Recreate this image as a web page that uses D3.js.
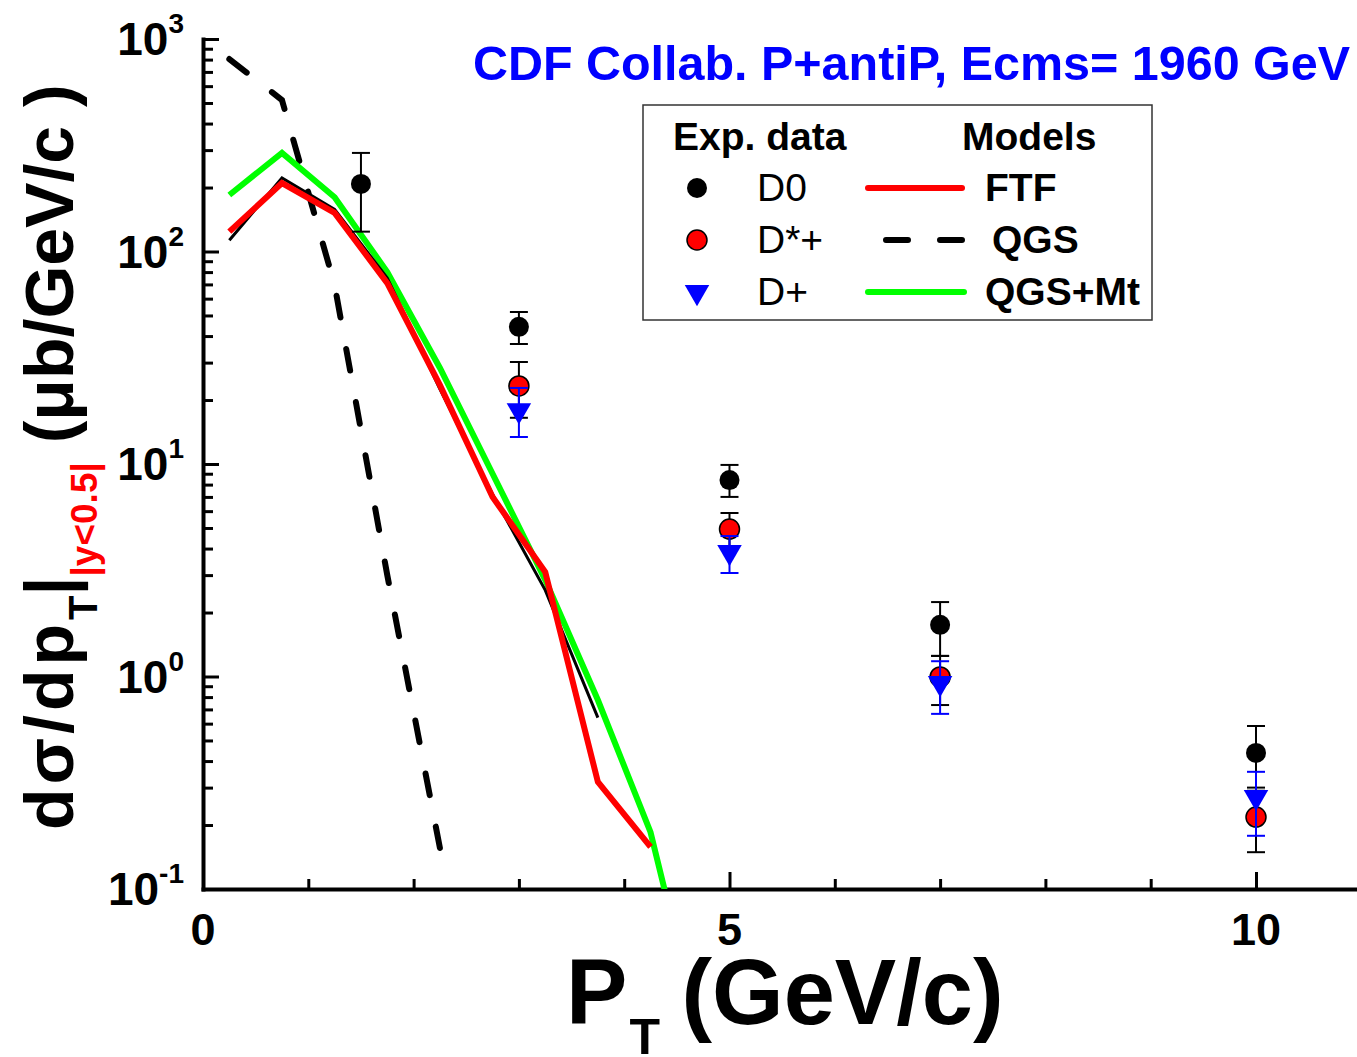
<!DOCTYPE html>
<html>
<head>
<meta charset="utf-8">
<script src="https://cdn.jsdelivr.net/npm/d3@7"></script>
<style>
  body { margin: 0; background: #fff; }
  text { font-family: "Liberation Sans", Arial, sans-serif; }
</style>
</head>
<body>
<script>
// ---- data ----
// experimental points: pT, value, lower and upper end of the error bar
var d0Pt  = [1.5, 3, 5, 7, 10];
var d0Val = [208, 44.2, 8.4, 1.75, 0.437];
var d0Lo  = [124, 36.7, 7.0, 1.25, 0.30];
var d0Hi  = [291, 51.9, 9.9, 2.24, 0.585];

var dStarPt  = [3, 5, 7, 10];
var dStarVal = [23.3, 4.94, 0.995, 0.218];
var dStarLo  = [16.5, 4.1, 0.734, 0.149];
var dStarHi  = [30.2, 5.88, 1.25, 0.29];

var dPlusPt  = [3, 5, 7, 10];
var dPlusVal = [17.9, 3.85, 0.93, 0.271];
var dPlusLo  = [13.4, 3.07, 0.667, 0.178];
var dPlusHi  = [22.8, 4.58, 1.18, 0.356];

// model curves on a 0.5 GeV/c grid
var modelPt = [0.25, 0.75, 1.25, 1.75, 2.25, 2.75, 3.25, 3.75, 4.25, 4.75];
var ftf     = [124, 210, 152, 71, 23.5, 7.0, 3.1, 0.319, 0.158];
var qgs     = [805, 516, 69.5, 3.0, 0.156];
var qgsMt   = [184.5, 291, 180, 80, 28.3, 9.0, 2.85, 0.775, 0.185, 0.018];
var blackSolid = [113, 222, 158, 75, 22.5, 7.2, 2.55, 0.64];

var xMajor = [0, 5, 10];
var xMinor = [1, 2, 3, 4, 6, 7, 8, 9];
var yMajorExp = [-1, 0, 1, 2, 3];

// ---- layout ----
var W = 1357, H = 1057;
var plotLeft = 203, plotBottom = 889, plotTop = 39;

var x = d3.scaleLinear().domain([0, 11]).range([plotLeft, plotLeft + 11 * 105.3]);
var y = d3.scaleLog().domain([0.1, 1000]).range([plotBottom, plotTop]);

var svg = d3.select("body").append("svg")
    .attr("width", W)
    .attr("height", H);

svg.append("clipPath").attr("id", "plotClip")
  .append("rect")
    .attr("x", plotLeft).attr("y", plotTop)
    .attr("width", W - plotLeft).attr("height", plotBottom - plotTop);

// ---- axes ----
var yMinor = [];
yMajorExp.slice(0, -1).forEach(function(e) {
  for (var k = 2; k <= 9; k++) yMinor.push(k * Math.pow(10, e));
});

function styleAxis(g, keepDomain) {
  g.selectAll(".tick line").attr("stroke", "#000").attr("stroke-width", 3);
  if (keepDomain) g.select(".domain").attr("stroke", "#000").attr("stroke-width", 4).attr("stroke-linecap", "square");
  else g.select(".domain").remove();
  g.selectAll(".tick text").remove();
}

svg.append("g")
    .attr("transform", "translate(" + plotLeft + ",0)")
    .call(d3.axisLeft(y).tickValues(yMinor).tickSize(-10).tickFormat(""))
    .call(styleAxis, false);
svg.append("g")
    .attr("transform", "translate(" + plotLeft + ",0)")
    .call(d3.axisLeft(y).tickValues(yMajorExp.map(function(e) { return Math.pow(10, e); }))
      .tickSizeInner(-16).tickSizeOuter(0).tickFormat(""))
    .call(styleAxis, true);

svg.append("g")
    .attr("transform", "translate(0," + plotBottom + ")")
    .call(d3.axisBottom(x).tickValues(xMinor).tickSize(-10).tickFormat(""))
    .call(styleAxis, false);
svg.append("g")
    .attr("transform", "translate(0," + plotBottom + ")")
    .call(d3.axisBottom(x).tickValues(xMajor).tickSizeInner(-17).tickSizeOuter(0).tickFormat(""))
    .call(styleAxis, true);

// y tick labels as 10^n
var yLab = svg.append("g");
yMajorExp.forEach(function(e) {
  var t = yLab.append("text")
      .attr("x", 184)
      .attr("y", y(Math.pow(10, e)) + 16)
      .attr("text-anchor", "end")
      .attr("font-weight", "bold")
      .attr("font-size", 46);
  t.append("tspan").text("10");
  t.append("tspan").attr("font-size", 28).attr("dy", -22).text(e);
});

// x tick labels
svg.append("g").selectAll("text")
    .data(xMajor)
  .enter().append("text")
    .attr("x", function(d) { return x(d); })
    .attr("y", 945)
    .attr("text-anchor", "middle")
    .attr("font-weight", "bold")
    .attr("font-size", 45)
    .text(function(d) { return d; });

// x axis title
var xt = svg.append("text")
    .attr("x", 566)
    .attr("y", 1024)
    .attr("font-weight", "bold")
    .attr("font-size", 92);
xt.append("tspan").text("P");
xt.append("tspan").attr("font-size", 50).attr("dy", 30).attr("dx", 2).text("T");
xt.append("tspan").attr("dy", -30).attr("dx", -4).text(" (GeV/c)");

// y axis title
var yt = svg.append("text")
    .attr("transform", "translate(73,830) rotate(-90)")
    .attr("font-weight", "bold")
    .attr("font-size", 68);
yt.append("tspan").attr("letter-spacing", 4).text("dσ/dp");
yt.append("tspan").attr("font-size", 40).attr("dy", 24).text("T");
yt.append("tspan").attr("dy", -24).text("|");
yt.append("tspan").attr("font-size", 37).attr("dy", 24).attr("fill", "#ff0000").text("|y<0.5|");
yt.append("tspan").attr("dy", -24).text("  (μb/GeV/c )");

// title
svg.append("text")
    .attr("x", 1350)
    .attr("y", 80)
    .attr("text-anchor", "end")
    .attr("font-weight", "bold")
    .attr("font-size", 48)
    .attr("fill", "#0000ff")
    .attr("textLength", 877)
    .attr("lengthAdjust", "spacingAndGlyphs")
    .text("CDF Collab. P+antiP, Ecms= 1960 GeV");

// ---- model lines ----
var plot = svg.append("g").attr("clip-path", "url(#plotClip)");

function curve(vals) {
  return vals.map(function(v, i) { return [modelPt[i], v]; });
}
var line = d3.line()
    .x(function(d) { return x(d[0]); })
    .y(function(d) { return y(d[1]); });

plot.append("path").datum(curve(qgs))
    .attr("d", line).attr("fill", "none")
    .attr("stroke", "#000").attr("stroke-width", 6)
    .attr("stroke-linecap", "round")
    .attr("stroke-dasharray", "22,32");
plot.append("path").datum(curve(qgsMt))
    .attr("d", line).attr("fill", "none")
    .attr("stroke", "#00ff00").attr("stroke-width", 6);
plot.append("path").datum(curve(blackSolid))
    .attr("d", line).attr("fill", "none")
    .attr("stroke", "#000").attr("stroke-width", 3);
plot.append("path").datum(curve(ftf))
    .attr("d", line).attr("fill", "none")
    .attr("stroke", "#ff0000").attr("stroke-width", 6);

// ---- experimental points ----
function errBars(pt, lo, hi, color) {
  var g = svg.append("g").attr("stroke", color).attr("stroke-width", 2);
  pt.forEach(function(p, i) {
    var cx = x(p);
    g.append("line").attr("x1", cx).attr("x2", cx).attr("y1", y(lo[i])).attr("y2", y(hi[i]));
    g.append("line").attr("x1", cx - 9).attr("x2", cx + 9).attr("y1", y(lo[i])).attr("y2", y(lo[i]));
    g.append("line").attr("x1", cx - 9).attr("x2", cx + 9).attr("y1", y(hi[i])).attr("y2", y(hi[i]));
  });
}

errBars(d0Pt, d0Lo, d0Hi, "#000");
svg.append("g").selectAll("circle")
    .data(d0Pt)
  .enter().append("circle")
    .attr("cx", function(d) { return x(d); })
    .attr("cy", function(d, i) { return y(d0Val[i]); })
    .attr("r", 10)
    .attr("fill", "#000");

errBars(dStarPt, dStarLo, dStarHi, "#000");
svg.append("g").selectAll("circle")
    .data(dStarPt)
  .enter().append("circle")
    .attr("cx", function(d) { return x(d); })
    .attr("cy", function(d, i) { return y(dStarVal[i]); })
    .attr("r", 10)
    .attr("fill", "#ff0000")
    .attr("stroke", "#000").attr("stroke-width", 1.5);

errBars(dPlusPt, dPlusLo, dPlusHi, "#0000ff");
var tri = d3.symbol().type(d3.symbolTriangle).size(260);
svg.append("g").selectAll("path")
    .data(dPlusPt)
  .enter().append("path")
    .attr("d", tri)
    .attr("transform", function(d, i) { return "translate(" + x(d) + "," + y(dPlusVal[i]) + ") rotate(180)"; })
    .attr("fill", "#0000ff");

// ---- legend ----
var lg = svg.append("g");
lg.append("rect")
    .attr("x", 643).attr("y", 105)
    .attr("width", 509).attr("height", 215)
    .attr("fill", "#fff")
    .attr("stroke", "#333").attr("stroke-width", 1.5);

lg.append("text").attr("x", 673).attr("y", 150)
    .attr("font-weight", "bold").attr("font-size", 39).text("Exp. data");
lg.append("text").attr("x", 962).attr("y", 150)
    .attr("font-weight", "bold").attr("font-size", 39).text("Models");

var rowY = [188, 240, 292];
var expNames = ["D0", "D*+", "D+"];
var modelNames = ["FTF", "QGS", "QGS+Mt"];

lg.append("circle").attr("cx", 697).attr("cy", rowY[0]).attr("r", 10).attr("fill", "#000");
lg.append("circle").attr("cx", 697).attr("cy", rowY[1]).attr("r", 10)
    .attr("fill", "#ff0000").attr("stroke", "#000").attr("stroke-width", 1.5);
lg.append("path").attr("d", tri)
    .attr("transform", "translate(697," + rowY[2] + ") rotate(180)")
    .attr("fill", "#0000ff");

expNames.forEach(function(n, i) {
  lg.append("text").attr("x", 757).attr("y", rowY[i] + 13)
      .attr("font-size", 39).text(n);
});

lg.append("line").attr("x1", 868).attr("x2", 962).attr("y1", rowY[0]).attr("y2", rowY[0])
    .attr("stroke", "#ff0000").attr("stroke-width", 6).attr("stroke-linecap", "round");
lg.append("line").attr("x1", 886).attr("x2", 962).attr("y1", rowY[1]).attr("y2", rowY[1])
    .attr("stroke", "#000").attr("stroke-width", 6).attr("stroke-linecap", "round")
    .attr("stroke-dasharray", "22,32");
lg.append("line").attr("x1", 868).attr("x2", 964).attr("y1", rowY[2]).attr("y2", rowY[2])
    .attr("stroke", "#00ff00").attr("stroke-width", 6).attr("stroke-linecap", "round");

var modelX = [985, 992, 985];
modelNames.forEach(function(n, i) {
  lg.append("text").attr("x", modelX[i]).attr("y", rowY[i] + 13)
      .attr("font-weight", "bold").attr("font-size", 39).text(n);
});
</script>
</body>
</html>
